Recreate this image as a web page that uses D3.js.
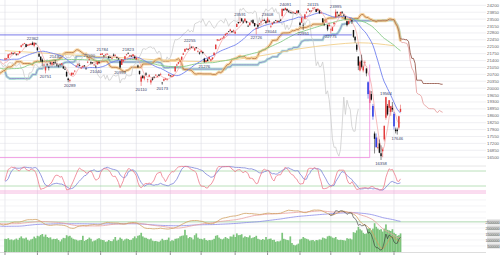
<!DOCTYPE html>
<html><head><meta charset="utf-8">
<script src="https://cdn.jsdelivr.net/npm/d3@7"></script>
<style>body{margin:0;background:#fff}svg{display:block}</style>
</head><body><svg id="c" width="500" height="255"></svg>
<script>
// ---------- DATA ----------
const monthLabels = ["4","5","6","7","8","9","10","11","12","1","2","3","4"];
const monthDays   = [20,19,20,22,21,19,21,20,20,19,18,21,5];
// closes before the visible range (Dec 2018 - Mar 2019), used only for indicators
const preClose = [22575,22036,21919,21501,21679,21220,21148,21602,21816,21375,21506,21115,21060,20393,20166,19155,19327,20077,20015,
 19561,20038,20204,20427,20164,20360,20555,20443,20402,20666,20719,20622,20593,20574,20774,20649,20664,20556,20773,
 20788,20883,20844,20874,20751,20333,20864,21144,21139,20900,21281,21302,21431,21464,21425,21528,21449,21556,21385,
 21602,21822,21726,21596,21456,21025,21125,21503,21290,21287,21450,21584,21566,21608,21627,20977,21428,21378,21033,21205];
// daily [open, high, low, close], Apr 2019 - Apr 2020
const ohlc = [
 [21451,21540,21410,21509],[21500,21530,21430,21505],[21520,21740,21510,21713],[21720,21780,21650,21724],[21740,21830,21700,21807],
 [21780,21810,21700,21761],[21770,21830,21740,21802],[21720,21760,21640,21687],[21700,21760,21660,21711],[21780,21890,21760,21870],
 [22090,22200,22060,22169],[22180,22260,22150,22221],[22240,22300,22230,22277],[22230,22250,22070,22090],[22150,22220,22130,22200],
 [22180,22260,22170,22217],[22200,22280,22180,22259],[22300,22362,22190,22200],[22150,22320,22070,22307],[22260,22310,22220,22258],
 [22060,22090,21880,21923],[21740,21800,21580,21602],[21600,21600,21330,21402],[21450,21510,21120,21344],[21160,21260,21110,21191],
 [20900,21100,20751,21067],[21200,21260,21110,21188],[21070,21110,20900,21062],[21290,21340,21180,21250],[21200,21340,21150,21301],
 [21320,21350,21180,21272],[21300,21430,21240,21283],[21200,21270,21100,21151],[21140,21190,21050,21117],[21190,21260,21150,21182],
 [21200,21280,21160,21260],[21100,21130,20970,21003],[20980,21090,20930,20942],[20820,20890,20560,20601],
 [20490,20530,20305,20410],[20370,20470,20289,20408],[20650,20800,20640,20776],[20690,20800,20680,20774],[20850,20900,20800,20884],
 [21100,21170,21040,21134],[21180,21260,21140,21204],[21170,21260,21100,21129],[21000,21080,20970,21032],[21070,21140,21020,21116],
 [21150,21170,21060,21124],[20990,21060,20950,20972],[21300,21390,21270,21333],[21440,21500,21400,21462],[21320,21370,21200,21258],
 [21300,21320,21220,21285],[21190,21230,21130,21193],[21090,21160,21040,21086],[21210,21340,21180,21338],[21310,21370,21230,21275],
 [21680,21780,21680,21729],[21700,21784,21680,21754],[21650,21680,21560,21638],[21700,21740,21660,21702],[21730,21770,21700,21746],
 [21610,21620,21500,21534],[21570,21600,21520,21565],[21530,21570,21470,21533],[21700,21760,21620,21643],[21650,21720,21620,21685],
 [21570,21600,21490,21535],[21500,21530,21430,21469],[21370,21390,20993,21046],[21180,21480,21170,21466],[21360,21440,21330,21416],
 [21480,21640,21470,21620],[21690,21740,21650,21709],[21760,21823,21740,21756],[21620,21690,21580,21658],[21640,21660,21580,21616],
 [21620,21720,21590,21709],[21600,21650,21470,21521],
 [21450,21580,21410,21540],[21150,21200,21020,21087],[20880,20880,20680,20720],[20330,20650,20110,20585],[20630,20670,20470,20516],
 [20490,20650,20400,20593],[20750,20810,20630,20684],[20440,20480,20290,20455],[20590,20710,20580,20655],[20290,20480,20180,20405],
 [20490,20570,20380,20418],[20570,20620,20510,20563],[20650,20710,20610,20677],[20580,20650,20560,20618],[20690,20720,20620,20628],
 [20680,20780,20650,20710],[20280,20310,20173,20261],[20380,20490,20350,20456],[20440,20520,20420,20479],[20430,20490,20380,20460],
 [20640,20750,20630,20704],
 [20640,20660,20580,20620],[20580,20670,20540,20625],[20630,20690,20580,20649],[20850,21120,20830,21085],[21150,21240,21130,21199],
 [21240,21330,21210,21318],[21350,21420,21330,21392],[21440,21600,21420,21597],[21700,21800,21680,21759],[21850,22010,21840,21988],
 [22000,22040,21940,22001],[21970,22030,21920,21960],[22000,22255,21980,22044],[22080,22140,22050,22079],[22090,22130,22050,22098],
 [21910,22040,21900,22020],[22070,22090,21980,22048],[21860,21930,21810,21878],[21800,21850,21700,21755],
 [21830,21940,21780,21885],[21830,21860,21720,21778],[21500,21540,21276,21341],[21330,21430,21300,21410],[21460,21520,21360,21375],
 [21470,21600,21460,21587],[21400,21490,21360,21456],[21470,21570,21440,21551],[21670,21810,21660,21798],[21980,22210,21970,22207],
 [22420,22490,22380,22472],[22410,22490,22400,22451],[22460,22540,22430,22492],[22520,22570,22490,22548],[22560,22660,22500,22625],
 [22680,22780,22660,22750],[22750,22820,22710,22799],[22880,22900,22830,22867],[22900,23010,22880,22974],[22890,22920,22800,22843],
 [22900,22970,22810,22927],
 [22770,22900,22750,22851],[23100,23290,23100,23251],[23350,23370,23250,23303],[23330,23591,23300,23330],[23530,23560,23380,23391],
 [23380,23450,23280,23331],[23400,23560,23360,23520],[23390,23420,23280,23319],[23160,23220,23100,23141],[23190,23330,23170,23303],
 [23420,23440,23350,23416],[23450,23500,23290,23292],[23300,23310,23110,23148],[23000,23090,22726,23038],[23200,23250,23020,23112],
 [23240,23300,23210,23292],[23370,23420,23320,23373],[23410,23500,23390,23437],[23450,23520,23400,23409],[23390,23450,23280,23293],
 [23330,23608,23320,23529],[23410,23470,23320,23379],[23110,23200,23044,23135],[23230,23330,23200,23300],[23360,23400,23310,23354],
 [23450,23460,23400,23430],[23350,23440,23330,23410],[23400,23440,23360,23391],[23460,23510,23410,23424],[23650,24030,23640,24023],
 [24000,24040,23910,23952],[23970,24091,23950,24066],[24010,24050,23900,23934],[23900,23960,23820,23864],[23850,23880,23780,23816],
 [23830,23870,23780,23821],[23830,23860,23810,23830],[23790,23800,23760,23782],[23800,23950,23790,23924],[23940,23960,23800,23837],
 [23320,23365,23115,23204],[23320,23600,23300,23575],[23210,23310,22951,23204],[23530,23770,23500,23739],[23840,23900,23770,23850],
 [23970,24060,23930,24025],[23920,23960,23880,23916],[23910,23940,23850,23933],[24010,24115,24000,24041],[24070,24100,24050,24083],
 [24000,24030,23850,23864],[23930,24040,23920,24031],[23930,23980,23770,23795],[23810,23840,23760,23827],[23540,23540,23320,23344],
 [23230,23320,23160,23216],[23330,23470,23330,23379],[23210,23220,22890,22977],[23150,23330,23100,23205],
 [22950,23030,22775,22972],[22900,23100,22890,23085],[23250,23340,23170,23320],[23600,23995,23590,23873],[23860,23900,23740,23828],
 [23690,23740,23640,23686],[23800,23880,23720,23861],[23880,23880,23770,23828],[23720,23750,23630,23688],[23640,23650,23470,23523],
 [23400,23420,23130,23194],[23250,23430,23230,23400],[23450,23560,23400,23479],[23440,23480,23250,23386],[22950,22950,22550,22605],
 [22600,22640,22300,22426],[22200,22280,21850,21948],[21600,21630,20916,21142],
 [20900,21400,20850,21344],[21400,21700,21000,21082],[20900,21200,20800,21100],[21300,21400,21100,21329],[21000,21000,20600,20749],
 [20300,20350,19470,19698],[19250,19900,18900,19867],[19700,19850,19370,19416],[19100,19200,18400,18559],[17700,17800,16690,17431],
 [17500,17700,17000,17002],[17000,17500,16900,17011],[17200,17400,16700,16726],[16700,17100,16358,16552],[16800,17000,16500,16887],
 [17400,18100,17300,18092],[18500,19564,18400,19546],[19100,19200,18600,18665],[19000,19400,18800,19389],[18800,19100,18600,19084],
 [19000,19300,18800,18917],
 [18700,18800,17900,18065],[17900,18000,17707,17819],[17900,18000,17646,17820],[18000,18600,17900,18576],[18800,19162,18800,18950]
];
// daily volume (million shares)
const volume = [
 1.10,1.08,1.15,1.02,1.05,0.98,1.04,1.12,1.01,1.18,1.30,1.14,1.12,1.20,1.02,0.95,1.05,1.10,1.28,1.15,
 1.35,1.30,1.42,1.50,1.28,1.45,1.25,1.18,1.22,1.05,1.10,1.08,1.12,1.00,0.88,1.05,1.18,1.15,1.40,
 1.30,1.35,1.20,1.10,1.05,1.02,0.95,0.98,1.00,1.35,0.92,1.00,1.08,1.20,1.10,0.88,0.95,0.98,1.10,1.15,
 1.05,1.00,0.98,0.85,0.88,1.00,0.92,0.90,1.05,1.25,0.95,1.02,1.20,1.10,0.95,1.05,1.12,1.08,1.00,1.02,1.15,1.30,
 1.15,1.35,1.40,1.60,1.30,1.20,1.18,1.10,1.05,1.12,0.95,0.90,0.92,0.88,0.85,0.95,1.10,0.98,1.00,1.02,1.20,
 0.90,0.98,0.95,1.10,1.12,1.15,1.30,1.35,1.38,1.85,1.40,1.15,1.25,1.20,1.05,1.40,1.55,1.20,1.10,
 1.10,1.05,1.15,1.00,0.95,1.00,0.98,1.02,1.10,1.35,1.40,1.20,1.10,1.05,1.12,1.25,1.15,1.10,1.30,1.28,1.45,
 1.25,1.55,1.40,1.42,1.48,1.20,1.30,1.25,1.22,1.38,1.15,1.20,1.25,1.35,1.10,1.05,1.00,1.08,1.02,1.25,
 1.05,1.10,1.12,1.00,1.02,0.85,0.90,0.88,0.95,1.60,1.10,1.05,1.00,0.98,1.30,0.75,0.60,0.55,0.62,0.70,
 1.05,1.10,1.25,1.15,1.10,1.05,0.95,0.98,1.00,0.90,1.00,0.98,1.05,1.02,1.20,1.15,1.10,1.30,1.35,
 1.30,1.20,1.15,1.25,1.05,1.00,1.02,1.00,0.98,0.95,1.15,1.10,1.12,1.05,1.65,1.60,1.80,2.10,
 1.90,1.80,1.60,1.50,1.55,1.95,2.00,1.80,1.95,2.40,2.10,1.95,1.85,1.90,1.70,1.95,2.30,1.85,1.80,1.75,1.90,
 1.60,1.50,1.35,1.40,1.55];
// 200-day average, read at each month start
const ma200Est = [21900,21800,21700,21600,21500,21400,21350,21450,21700,22000,22200,22300,22150];
const priceTicks = [24200,23850,23500,23150,22800,22450,22100,21750,21400,21050,20700,20350,20000,19650,19300,18950,18600,18250,17900,17550,17200,16850,16500];
const volTicks = [2.5,2.0,1.5,1.0,0.5];
const volTickText = ["2500000","2000000","1500000","1000000","500000"];
const stochLevels = [100,80,20,0];
const labelDays  = [17,25,31,40,52,56,60,71,76,84,97,114,123,145,155,162,164,173,184,190,201,204,232,235,242];
const labelKinds = ["H","L","H","L","H","L","H","L","H","L","L","H","L","H","L","H","L","H","L","H","L","H","L","H","L"];
const refLevel = 22700, refEndDay = 214;
const boxLevel = 16480, boxDay = 225, boxTop = 21200;
const lowerRef = 21800;

// ---------- DERIVED ----------
const open = ohlc.map(d=>d[0]), high = ohlc.map(d=>d[1]), low = ohlc.map(d=>d[2]), close = ohlc.map(d=>d[3]);
const N = close.length, P = preClose.length;
const aC = preClose.concat(close), aH = preClose.concat(high), aL = preClose.concat(low);
function sma(arr,n){return arr.map((v,i)=> i<n-1?null:d3.mean(arr.slice(i-n+1,i+1)));}
function mid(n,g){ if(g<n-1) return null; return (d3.max(aH.slice(g-n+1,g+1))+d3.min(aL.slice(g-n+1,g+1)))/2; }
const ma5=sma(aC,5), ma25=sma(aC,25), ma75=sma(aC,75);
const monthStart=[]; {let s=0; monthDays.forEach(d=>{monthStart.push(s); s+=d;});}

// ---------- SCALES ----------
const svg=d3.select("#c");
const x=d3.scaleLinear().domain([0,240]).range([5,394]);
const y=d3.scaleLinear().domain([16358,24115]).range([160,7]);
const yS=d3.scaleLinear().domain([0,100]).range([191,166]);
const yL=d3.scaleLinear().domain([16400,24000]).range([251,210]);
const yV=d3.scaleLinear().domain([0,2.5]).range([252,222]);
const plotR=486;

svg.append("defs").html(`<clipPath id="cm"><rect x="0" y="0" width="${plotR}" height="162"/></clipPath>
<clipPath id="cl"><rect x="0" y="200" width="${plotR}" height="53"/></clipPath>`);

// grid
const grid=svg.append("g");
grid.selectAll("line.h").data(priceTicks).join("line")
 .attr("x1",0).attr("x2",plotR).attr("y1",d=>y(d)).attr("y2",d=>y(d)).attr("stroke","#e4e4ea").attr("stroke-width",0.6);
grid.selectAll("line.v").data(monthStart).join("line")
 .attr("x1",d=>x(d)).attr("x2",d=>x(d)).attr("y1",0).attr("y2",252).attr("stroke","#dcdce4").attr("stroke-width",0.6);
const lowGrid=[...d3.range(0,25,6)].map(k=>200+k);
grid.selectAll("line.l").data(lowGrid).join("line")
 .attr("x1",0).attr("x2",plotR).attr("y1",d=>d).attr("y2",d=>d).attr("stroke","#ececf0").attr("stroke-width",0.6);
grid.selectAll("line.vt").data(volTicks).join("line")
 .attr("x1",0).attr("x2",plotR).attr("y1",d=>yV(d)).attr("y2",d=>yV(d)).attr("stroke","#ececf0").attr("stroke-width",0.6);

const main=svg.append("g").attr("clip-path","url(#cm)");
const lineGen=(ys)=>d3.line().defined(d=>d.v!=null).x(d=>x(d.i)).y(d=>ys(d.v));
const series=(arr,shift=0)=>arr.map((v,g)=>({i:g-P+shift,v:v})).filter(d=>d.i>=-4);

// Ichimoku
const spanA=[],spanB=[];
for(let g=0;g<aC.length;g++){
  const t=mid(9,g),k=mid(26,g),b=mid(52,g);
  spanA.push(t!=null&&k!=null?(t+k)/2:null); spanB.push(b);
}
const sA=series(spanA,26), sB=series(spanB,26);
const past=d=>d.i<=N-1, fut=d=>d.i>=N-1;
main.append("path").datum(sB.filter(past)).attr("d",lineGen(y)).attr("fill","none").attr("stroke","#8fd6c8").attr("stroke-width",2.6).attr("opacity",0.7);
main.append("path").datum(sB.filter(past)).attr("d",lineGen(y)).attr("fill","none").attr("stroke","#8a72c8").attr("stroke-width",0.7);
main.append("path").datum(sA.filter(past)).attr("d",lineGen(y)).attr("fill","none").attr("stroke","#f6c47a").attr("stroke-width",3).attr("opacity",0.65);
main.append("path").datum(sA.filter(past)).attr("d",lineGen(y)).attr("fill","none").attr("stroke","#a8643a").attr("stroke-width",0.7);
main.append("path").datum(sA.filter(fut)).attr("d",lineGen(y)).attr("fill","none").attr("stroke","#e49a9a").attr("stroke-width",0.8);
main.append("path").datum(sB.filter(fut)).attr("d",lineGen(y)).attr("fill","none").attr("stroke","#8a4638").attr("stroke-width",0.8);

// chikou
main.append("path").datum(series(aC,-26)).attr("d",lineGen(y)).attr("fill","none").attr("stroke","#cdcdcd").attr("stroke-width",0.8);
// moving averages
const ma200pts=ma200Est.map((v,k)=>({i:monthStart[k],v:v}));
main.append("path").datum(ma200pts).attr("d",lineGen(y).curve(d3.curveMonotoneX)).attr("fill","none").attr("stroke","#f2cf8a").attr("stroke-width",0.9);
main.append("path").datum(series(ma75)).attr("d",lineGen(y)).attr("fill","none").attr("stroke","#86c986").attr("stroke-width",0.9);
main.append("path").datum(series(ma25)).attr("d",lineGen(y)).attr("fill","none").attr("stroke","#7080ee").attr("stroke-width",0.9);
main.append("path").datum(series(ma5)).attr("d",lineGen(y)).attr("fill","none").attr("stroke","#f3a0a0").attr("stroke-width",0.7);
// reference line
main.append("line").attr("x1",0).attr("x2",x(refEndDay)).attr("y1",y(refLevel)).attr("y2",y(refLevel)).attr("stroke","#6a6ae6").attr("stroke-width",0.9);

// candles
const cg=main.append("g");
const idx=d3.range(N);
const ccol=i=> close[i]>=open[i]?"#e23a3a":((open[i]-close[i])/open[i]>0.028?"#1f2fe0":"#111");
cg.selectAll("line").data(idx).join("line")
 .attr("x1",i=>x(i)).attr("x2",i=>x(i)).attr("y1",i=>y(high[i])).attr("y2",i=>y(low[i])).attr("stroke",ccol).attr("stroke-width",0.5);
cg.selectAll("rect").data(idx).join("rect")
 .attr("x",i=>x(i)-0.7).attr("width",1.4)
 .attr("y",i=>y(Math.max(open[i],close[i])))
 .attr("height",i=>Math.max(0.6,Math.abs(y(open[i])-y(close[i]))))
 .attr("fill",ccol);

// high/low labels
svg.append("g").selectAll("text").data(labelDays).join("text")
 .attr("x",i=>x(i)).attr("y",(i,k)=>labelKinds[k]==="H"?y(high[i])-1.5:y(low[i])+5)
 .attr("text-anchor","middle").attr("font-family","Liberation Sans, Arial, sans-serif").attr("font-size",4.2).attr("fill","#3a3f6a")
 .text((i,k)=>labelKinds[k]==="H"?high[i]:low[i]);

// pink box lines
svg.append("line").attr("x1",0).attr("x2",x(boxDay)).attr("y1",y(boxLevel)).attr("y2",y(boxLevel)).attr("stroke","#f08ae0").attr("stroke-width",0.8);
svg.append("line").attr("x1",x(boxDay)).attr("x2",x(boxDay)).attr("y1",y(boxTop)).attr("y2",y(boxLevel)).attr("stroke","#f08ae0").attr("stroke-width",0.8);

// price axis labels
svg.append("g").selectAll("text").data(priceTicks).join("text")
 .attr("x",499).attr("y",d=>y(d)+1.5).attr("text-anchor","end").attr("font-family","Liberation Sans, Arial, sans-serif").attr("font-size",4.3).attr("fill","#666")
 .text(d=>d);

// ---------- STOCHASTIC ----------
const kRaw=aC.map((c,g)=>{ if(g<8) return null; const hh=d3.max(aH.slice(g-8,g+1)), ll=d3.min(aL.slice(g-8,g+1)); return hh===ll?50:(c-ll)/(hh-ll)*100;});
const kSlow=kRaw.map((v,g)=>g<10?null:d3.mean(kRaw.slice(g-2,g+1)));
const kLong=aC.map((c,g)=>{ if(g<25) return null; const hh=d3.max(aH.slice(g-25,g+1)), ll=d3.min(aL.slice(g-25,g+1)); return (c-ll)/(hh-ll)*100;});
const dSlow=kLong.map((v,g)=>g<30?null:d3.mean(kLong.slice(g-4,g+1)));
const sg=svg.append("g");
const lvlCol={100:"#e0e0e0",80:"#a8d8a8",20:"#a8d8a8",0:"#f4a6d8"};
sg.selectAll("line").data(stochLevels).join("line")
 .attr("x1",0).attr("x2",plotR).attr("y1",d=>yS(d)).attr("y2",d=>yS(d)).attr("stroke",d=>lvlCol[d]).attr("stroke-width",0.8);
sg.append("line").attr("x1",0).attr("x2",plotR).attr("y1",yS(0)+2).attr("y2",yS(0)+2).attr("stroke","#f4a6d8").attr("stroke-width",0.8);
const stS=(arr)=>arr.map((v,g)=>({i:g-P,v:v})).filter(d=>d.i>=0);
sg.append("path").datum(stS(dSlow)).attr("d",lineGen(yS)).attr("fill","none").attr("stroke","#7a82d8").attr("stroke-width",0.8);
sg.append("path").datum(stS(kSlow)).attr("d",lineGen(yS)).attr("fill","none").attr("stroke","#ee7a8a").attr("stroke-width",0.8);

// ---------- LOWER PANEL ----------
const lg=svg.append("g").attr("clip-path","url(#cl)");
lg.append("line").attr("x1",0).attr("x2",plotR).attr("y1",yL(lowerRef)).attr("y2",yL(lowerRef)).attr("stroke","#9fd69f").attr("stroke-width",0.8);
lg.selectAll("rect").data(idx).join("rect")
 .attr("x",i=>x(i)-0.8).attr("width",1.7).attr("y",i=>yV(volume[i])).attr("height",i=>yV(0)-yV(volume[i])).attr("fill","#7cc47c");
lg.append("path").datum(series(ma75)).attr("d",lineGen(yL)).attr("fill","none").attr("stroke","#8a8ae8").attr("stroke-width",0.8);
lg.append("path").datum(series(ma25)).attr("d",lineGen(yL)).attr("fill","none").attr("stroke","#e8a0a0").attr("stroke-width",0.8);
lg.append("path").datum(series(ma5)).attr("d",lineGen(yL)).attr("fill","none").attr("stroke","#d0a060").attr("stroke-width",0.8);
lg.append("path").datum(series(aC).filter(d=>d.i>=200)).attr("d",lineGen(yL)).attr("fill","none").attr("stroke","#333").attr("stroke-width",0.6);

// volume labels
const vl=svg.append("g");
vl.selectAll("rect").data(volTicks).join("rect").attr("x",487).attr("y",d=>yV(d)-2.5).attr("width",13).attr("height",5).attr("fill","#d8d8d8");
vl.selectAll("text").data(volTicks).join("text").attr("x",499.5).attr("y",d=>yV(d)+1.5).attr("text-anchor","end")
 .attr("font-family","Liberation Sans, Arial, sans-serif").attr("font-size",3.6).attr("fill","#555").text((d,k)=>volTickText[k]);

// month ticks
svg.append("g").selectAll("line").data(monthStart).join("line")
 .attr("x1",d=>x(d)).attr("x2",d=>x(d)).attr("y1",251).attr("y2",255).attr("stroke","#666").attr("stroke-width",0.7);
svg.append("line").attr("x1",0).attr("x2",plotR).attr("y1",252.5).attr("y2",252.5).attr("stroke","#bbb").attr("stroke-width",0.5);
</script></body></html>
